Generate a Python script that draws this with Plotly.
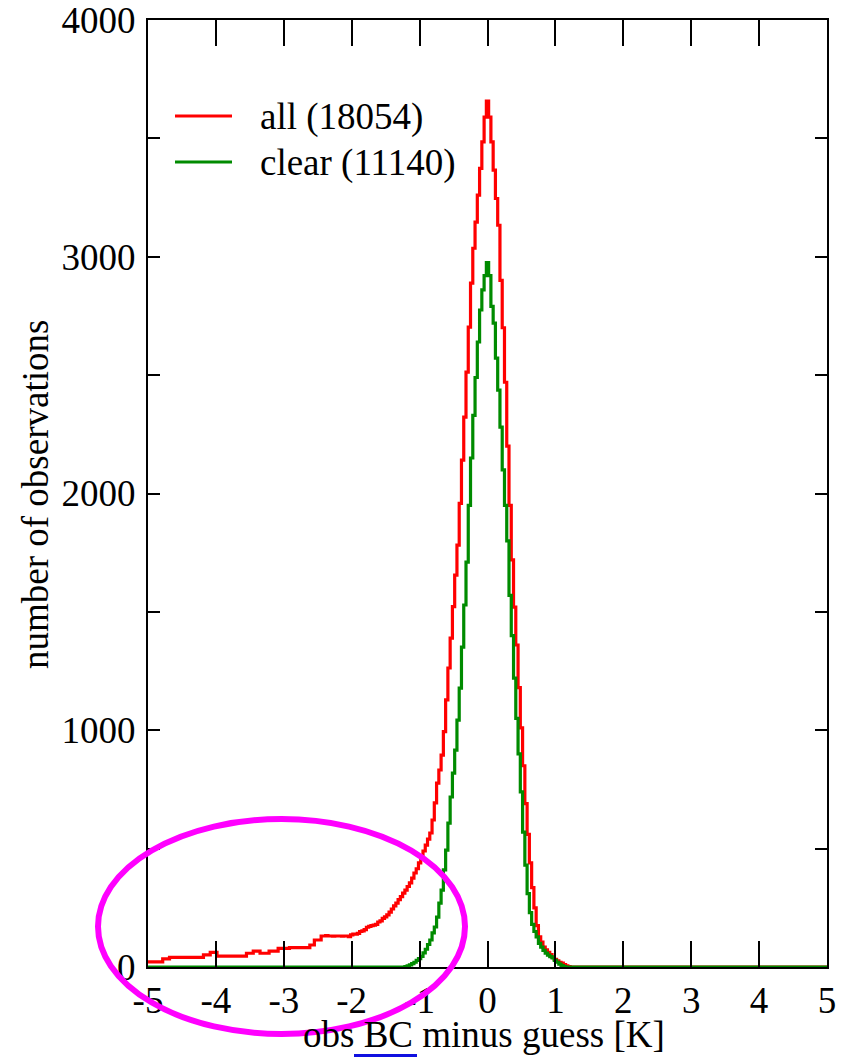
import plotly.graph_objects as go

# ---------------- data ----------------
BIN_WIDTH = 1.0 / 30.0          # histogram bin width [K]
bin_index = list(range(-150, 151))
bin_centers = [k * BIN_WIDTH for k in bin_index]

# all observations (18054), bins from -5 K to +5 K
red_counts = [
    # k -150 .. -121
    22, 22, 22, 22, 22, 22, 22, 34, 34, 34, 41, 41, 41, 41, 41, 41, 41, 41, 41, 41,
    41, 41, 41, 41, 41, 51, 51, 51, 62, 62,
    # k -120 .. -91
    62, 46, 46, 46, 46, 46, 46, 46, 46, 46, 46, 46, 46, 46, 58, 58, 58, 67, 67, 67,
    58, 58, 58, 58, 67, 67, 67, 67, 79, 79,
    # k -90 .. -61
    79, 79, 79, 82, 82, 82, 82, 82, 82, 82, 82, 82, 93, 93, 114, 114, 114, 131, 131, 133,
    131, 131, 130, 131, 131, 131, 130, 131, 131, 128,
    # k -60 .. -31
    136, 139, 139, 142, 150, 153, 158, 168, 172, 175, 177, 180, 190, 195, 205, 212, 220, 232, 245, 258,
    270, 285, 297, 312, 325, 340, 355, 375, 397, 415,
    # k -30 .. -1
    440, 460, 490, 515, 540, 566, 621, 693, 777, 832, 895, 994, 1128, 1263, 1389, 1522, 1655, 1782, 1958, 2141,
    2323, 2513, 2703, 2889, 3036, 3146, 3260, 3373, 3485, 3590,
    # k 0
    3657,
    # k 1 .. 30
    3590, 3485, 3366, 3246, 3133, 2900, 2700, 2470, 2200, 1950, 1720, 1520, 1360, 1180, 1010, 850, 690, 560, 440, 335,
    250, 175, 127, 105, 84, 72, 62, 52, 42, 32,
    # k 31 .. 60
    26, 20, 16, 10, 5, 2, 0, 0, 0, 0, 0, 0, 0, 0, 0, 0, 0, 0, 0, 0,
    0, 0, 0, 0, 0, 0, 0, 0, 0, 0,
    # k 61 .. 90
    0, 0, 0, 0, 0, 0, 0, 0, 0, 0, 0, 0, 0, 0, 0, 0, 0, 0, 0, 0, 0, 0, 0, 0, 0, 0, 0, 0, 0, 0,
    # k 91 .. 120
    0, 0, 0, 0, 0, 0, 0, 0, 0, 0, 0, 0, 0, 0, 0, 0, 0, 0, 0, 0, 0, 0, 0, 0, 0, 0, 0, 0, 0, 0,
    # k 121 .. 150
    0, 0, 0, 0, 0, 0, 0, 0, 0, 0, 0, 0, 0, 0, 0, 0, 0, 0, 0, 0, 0, 0, 0, 0, 0, 0, 0, 0, 0, 0,
]

# clear observations (11140)
green_counts = [
    # k -150 .. -121
    0, 0, 0, 0, 0, 0, 0, 0, 0, 0, 0, 0, 0, 0, 0, 0, 0, 0, 0, 0, 0, 0, 0, 0, 0, 0, 0, 0, 0, 0,
    # k -120 .. -91
    0, 0, 0, 0, 0, 0, 0, 0, 0, 0, 0, 0, 0, 0, 0, 0, 0, 0, 0, 0, 0, 0, 0, 0, 0, 0, 0, 0, 0, 0,
    # k -90 .. -61
    0, 0, 0, 0, 0, 0, 0, 0, 0, 0, 0, 0, 0, 0, 0, 0, 0, 0, 0, 0, 0, 0, 0, 0, 0, 0, 0, 0, 0, 0,
    # k -60 .. -37
    0, 0, 0, 0, 0, 0, 0, 0, 0, 0, 0, 0, 0, 0, 0, 0, 0, 0, 0, 0, 0, 0, 0, 0,
    # k -36 .. -1
    2, 5, 9, 14, 20, 28, 35, 45, 60, 75, 95, 114, 144, 169, 211, 270, 325, 410, 494, 608,
    718, 819, 916, 1043, 1178, 1351, 1529, 1710, 1950, 2150, 2330, 2490, 2640, 2775, 2860, 2920,
    # k 0
    2975,
    # k 1 .. 34
    2920, 2790, 2720, 2572, 2437, 2280, 2100, 1950, 1800, 1570, 1400, 1220, 1050, 900, 740, 570, 430, 310, 230, 180,
    150, 127, 100, 84, 70, 59, 50, 44, 38, 28, 20, 12, 6, 2,
    # k 35 .. 150
    0, 0, 0, 0, 0, 0, 0, 0, 0, 0, 0, 0, 0, 0, 0, 0, 0, 0, 0, 0, 0, 0, 0, 0, 0, 0,
    0, 0, 0, 0, 0, 0, 0, 0, 0, 0, 0, 0, 0, 0, 0, 0, 0, 0, 0, 0, 0, 0, 0, 0, 0, 0, 0, 0, 0, 0,
    0, 0, 0, 0, 0, 0, 0, 0, 0, 0, 0, 0, 0, 0, 0, 0, 0, 0, 0, 0, 0, 0, 0, 0, 0, 0, 0, 0, 0, 0,
    0, 0, 0, 0, 0, 0, 0, 0, 0, 0, 0, 0, 0, 0, 0, 0, 0, 0, 0, 0, 0, 0, 0, 0, 0, 0, 0, 0, 0, 0,
]

series_names = ["all (18054)", "clear (11140)"]
x_tick_vals = [-5, -4, -3, -2, -1, 0, 1, 2, 3, 4, 5]
x_tick_text = ["-5", "-4", "-3", "-2", "-1", "0", "1", "2", "3", "4", "5"]
y_tick_vals = [0, 1000, 2000, 3000, 4000]
y_tick_text = ["0", "1000", "2000", "3000", "4000"]
y_minor_vals = [500, 1500, 2500, 3500]
x_title = "obs BC minus guess [K]"
y_title = "number of observations"

# ---------------- styling / layout ----------------
W, H = 848, 1058
ML, MR, MT, MB = 148, 21, 20, 91
PW, PH = W - ML - MR, H - MT - MB
FONT = "Liberation Serif"
FS = 37
RED = "#ff0000"
GREEN = "#008b00"


def px(xp):
    return (xp - ML) / PW


def py(yp):
    return (H - MB - yp) / PH


fig = go.Figure()
fig.add_trace(go.Scatter(x=bin_centers, y=red_counts, mode="lines", name=series_names[0],
                         line=dict(color=RED, width=3.2, shape="hvh"), showlegend=False))
fig.add_trace(go.Scatter(x=bin_centers, y=green_counts, mode="lines", name=series_names[1],
                         line=dict(color=GREEN, width=3.2, shape="hvh"), showlegend=False))

axis_common = dict(showline=True, linewidth=2, linecolor="black", mirror="ticks",
                   ticks="inside", tickwidth=2, tickcolor="black", showgrid=False,
                   zeroline=False, automargin=False, ticklabeloverflow="allow",
                   tickfont=dict(family=FONT, size=FS, color="black"))

fig.update_layout(
    width=W, height=H,
    margin=dict(l=ML, r=MR, t=MT, b=MB, pad=0),
    paper_bgcolor="white", plot_bgcolor="white",
    showlegend=False,
    font=dict(family=FONT, size=FS, color="black"),
    xaxis=dict(range=[-5, 5], tickmode="array", tickvals=x_tick_vals, ticktext=x_tick_text,
               ticklen=26, **axis_common),
    yaxis=dict(range=[0, 4000], tickmode="array", tickvals=y_tick_vals, ticktext=y_tick_text,
               ticklen=12, ticklabelstandoff=3,
               minor=dict(tickmode="array", tickvals=y_minor_vals, ticks="inside", ticklen=12,
                          tickwidth=2, tickcolor="black", showgrid=False),
               **axis_common),
)

shapes = [
    # legend samples
    dict(type="line", xref="paper", yref="paper", x0=px(175), x1=px(232), y0=py(116), y1=py(116),
         line=dict(color=RED, width=3)),
    dict(type="line", xref="paper", yref="paper", x0=px(175), x1=px(232), y0=py(162), y1=py(162),
         line=dict(color=GREEN, width=3)),
    # magenta highlight ellipse
    dict(type="circle", xref="paper", yref="paper", x0=px(98), x1=px(465), y0=py(1034), y1=py(819),
         line=dict(color="#ff00ff", width=6), layer="above"),
    # blue underline under "BC"
    dict(type="line", xref="paper", yref="paper", x0=px(354), x1=px(417), y0=py(1055.5), y1=py(1055.5),
         line=dict(color="#1010e0", width=3)),
]
fig.update_layout(shapes=shapes)

# axis titles
fig.add_annotation(xref="paper", yref="paper", x=px(484), y=py(1034), text=x_title,
                   showarrow=False, xanchor="center", yanchor="middle",
                   font=dict(family=FONT, size=FS, color="black"))
fig.add_annotation(xref="paper", yref="paper", x=px(35), y=py(495), text=y_title, textangle=-90,
                   showarrow=False, xanchor="center", yanchor="middle",
                   font=dict(family=FONT, size=FS, color="black"))

# legend texts
fig.add_annotation(xref="paper", yref="paper", x=px(258), y=py(117), text=series_names[0],
                   showarrow=False, xanchor="left", yanchor="middle",
                   font=dict(family=FONT, size=FS, color="black"))
fig.add_annotation(xref="paper", yref="paper", x=px(258), y=py(163), text=series_names[1],
                   showarrow=False, xanchor="left", yanchor="middle",
                   font=dict(family=FONT, size=FS, color="black"))

fig.write_html("out.html")
